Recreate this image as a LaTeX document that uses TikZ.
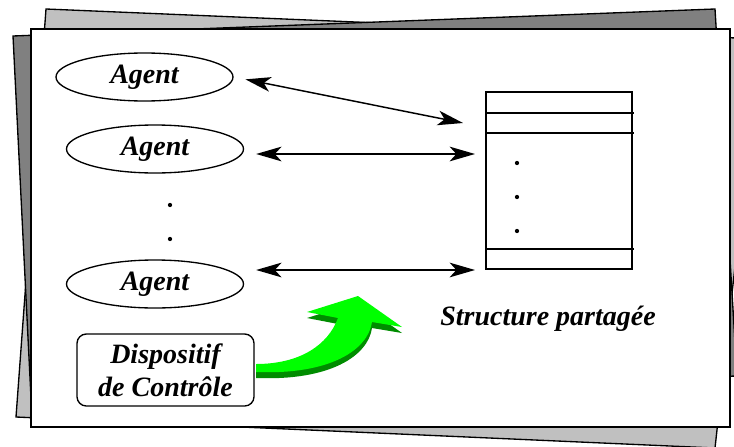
\documentclass[tikz,border=0pt]{standalone}
\usepackage{fontspec}
\setmainfont{Liberation Serif}
\usetikzlibrary{arrows.meta,shapes.geometric}
\definecolor{sheetlight}{HTML}{C0C0C0}
\definecolor{sheetdark}{HTML}{808080}
\definecolor{flashgreen}{HTML}{00FF00}
\definecolor{flashshade}{HTML}{008C00}

\begin{document}
\begin{tikzpicture}[x=0.75pt,y=-0.75pt,>={Stealth[length=19pt,width=11pt,inset=5pt]},
		agent/.style={draw,ellipse,line width=1pt,minimum width=132.75pt,minimum height=36pt,inner sep=0pt,font=\fontsize{21}{23}\selectfont\bfseries\itshape},
		link/.style={<->,line width=1.1pt,black},
		bigtext/.style={font=\fontsize{21}{24.75}\selectfont\bfseries\itshape}]
		\useasboundingbox (0,0) rectangle (734,446);

		% sheets behind
		\filldraw[fill=sheetlight,line width=1pt] (46,9) -- (760,39) -- (715,448) -- (16,417) -- cycle;
		\filldraw[fill=sheetdark,line width=1pt] (13,36) -- (715,9) -- (737,376) -- (31,398) -- cycle;
		\filldraw[fill=white,line width=1pt] (31,29) rectangle (730,427);

		\node[agent] (a1) at (144.5,77) {Agent};
		\node[agent] (a2) at (155,149) {Agent};
		\node[agent] (a3) at (155,284) {Agent};
		\fill (170,205) circle [radius=1.6pt];
		\fill (170,239) circle [radius=1.6pt];

		% shared structure
		\node[draw,line width=1pt,minimum width=109.5pt,minimum height=132.75pt,inner sep=0pt] (mem) at (559,180.5) {};
		\draw[line width=1pt] (mem.west |- 0,113) -- ([xshift=1pt]mem.east |- 0,113);
		\draw[line width=1pt] (mem.west |- 0,133) -- ([xshift=1pt]mem.east |- 0,133);
		\draw[line width=1pt] (mem.west |- 0,249) -- ([xshift=1pt]mem.east |- 0,249);
		\fill (517,163) circle [radius=1.6pt];
		\fill (517,197) circle [radius=1.6pt];
		\fill (517,231) circle [radius=1.6pt];
		\node[bigtext] (memlabel) at (548,319) {Structure partagée};

		\coordinate (t1) at (463,123);
		\coordinate (t2) at (475,154);
		\coordinate (t3) at (475,270);
		\draw[link,shorten <=9pt] (a1.east) -- (t1);
		\draw[link,shorten <=9pt] (a2.east |- t2) -- (t2);
		\draw[link,shorten <=9pt] (a3.east |- t3) -- (t3);

		\node[draw,rounded corners=7pt,line width=1pt,minimum width=132.75pt,minimum height=54pt,inner sep=0pt,align=center,bigtext] (ctrl) at (165.5,370) {Dispositif\\de Contrôle};

		% green curved arrow, dark copy below gives the thickness
		\fill[flashshade,shift={(0,6)}] (256,372) .. controls (330,375) and (368,350) .. (372,322) -- (402,327) -- (358,296) -- (307,312) -- (338,318) .. controls (328,345) and (300,364) .. (256,364) -- cycle;
		\fill[flashshade] (256,364) rectangle (262,378);
		\fill[flashgreen] (256,372) .. controls (330,375) and (368,350) .. (372,322) -- (402,327) -- (358,296) -- (307,312) -- (338,318) .. controls (328,345) and (300,364) .. (256,364) -- cycle;

	\end{tikzpicture}
\end{document}
